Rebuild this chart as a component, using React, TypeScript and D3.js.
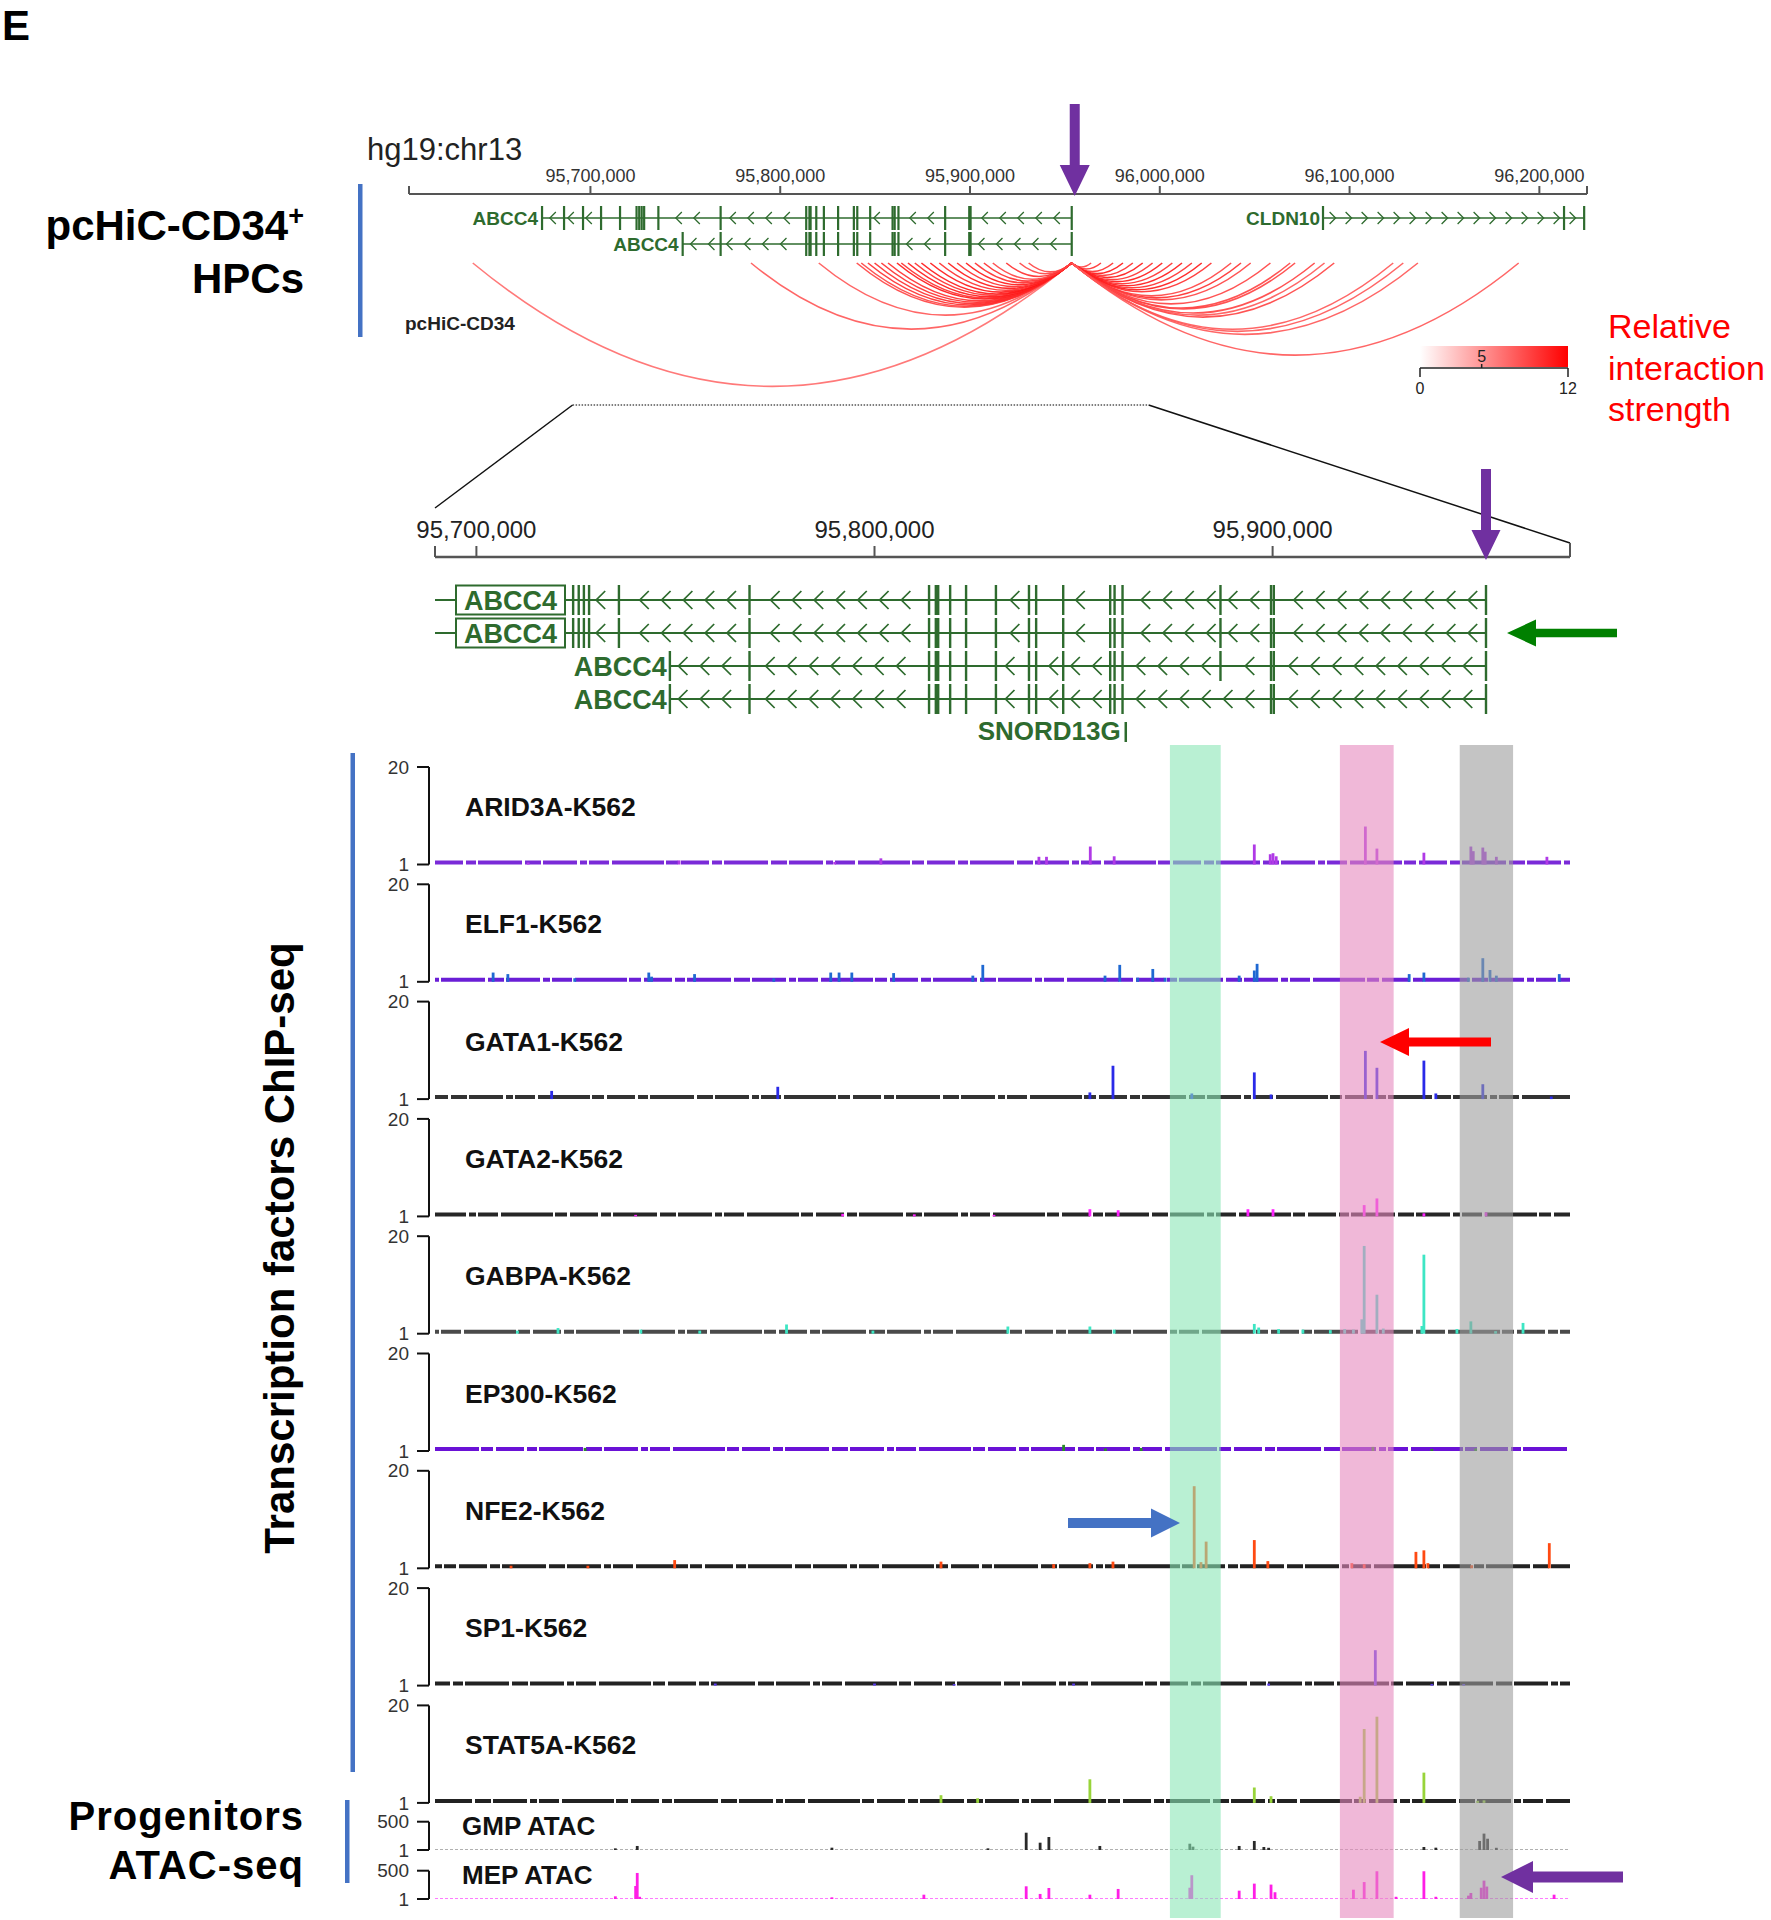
import React from "react";
import * as d3 from "d3";

const FONT = "'Liberation Sans', Arial, Helvetica, sans-serif";

// ---------------- genomic axes ----------------
const topDomain: [number, number] = [95604400, 96225100];
const topTickValues = [95700000, 95800000, 95900000, 96000000, 96100000, 96200000];
const zoomDomain: [number, number] = [95689600, 95974700];
const zoomTickValues = [95700000, 95800000, 95900000];
const zoomRegionOnTop: [number, number] = [95690600, 95994100];
const promoterPos = 95953600;

// ---------------- genes ----------------
const abcc4LongStart = 95674500;
const abcc4ShortStart = 95748600;
const abcc4End = 95953600;
const abcc4LongExons = [95674500, 95686100, 95696100, 95705600, 95715600, 95724300, 95725700, 95727000, 95728300, 95735800, 95768600, 95813700, 95815400, 95816000, 95819000, 95823000, 95830500, 95838800, 95840600, 95847400, 95859200, 95860300, 95862300, 95886900, 95899600, 95900300, 95953600];
const abcc4ShortExons = [95748600, 95768600, 95813700, 95815400, 95816000, 95819000, 95823000, 95830500, 95838800, 95840600, 95847400, 95859200, 95860300, 95862300, 95886900, 95899600, 95900300, 95953600];
const abcc4ShortExonsB = [95748600, 95768600, 95813700, 95815400, 95816000, 95819000, 95823000, 95830500, 95838800, 95840600, 95847400, 95859200, 95860300, 95862300, 95899600, 95900300, 95953600];
const cldn10Start = 96086000;
const cldn10End = 96223600;
const cldn10Exons = [96086000, 96213000, 96223600];
const snord13gPos = 95863100;

// ---------------- pcHiC interactions (partner ends, anchor = promoter) ----------------
const arcPartnerPos = [95638000, 95784600, 95820300, 95840300, 95842700, 95846200, 95849700, 95853300, 95856800, 95861500, 95863800, 95867300, 95870900, 95874400, 95879100, 95883800, 95888500, 95893200, 95897900, 95902600, 95907300, 95912000, 95919100, 95926100, 95930900, 95963800, 95969000, 95975400, 95980600, 95985800, 95991000, 95996200, 96001300, 96006600, 96011700, 96016900, 96022100, 96027200, 96037600, 96042800, 96047900, 96058300, 96068700, 96071300, 96081600, 96086800, 96091900, 96123000, 96128300, 96136000, 96189100];
const arcScores = [7, 8, 8, 9, 9, 10, 10, 10, 10, 11, 10, 11, 10, 11, 11, 10, 11, 10, 11, 10, 10, 9, 10, 9, 9, 9, 10, 10, 11, 10, 11, 10, 11, 10, 11, 10, 11, 10, 9, 10, 9, 9, 9, 9, 9, 8, 9, 8, 8, 8, 8];
const legendTicks = [0, 5, 12];

// ---------------- ChIP-seq tracks ----------------
const chipNames = ["ARID3A-K562", "ELF1-K562", "GATA1-K562", "GATA2-K562", "GABPA-K562", "EP300-K562", "NFE2-K562", "SP1-K562", "STAT5A-K562"];
const chipRange = [1, 20];
const arid3aPeaks = [[95713000, 1.4], [95750900, 1.8], [95790000, 1.5], [95801600, 2.2], [95841300, 2.5], [95843200, 2.5], [95854200, 4.5], [95860200, 2.6], [95895400, 4.9], [95899400, 3.0], [95900100, 3.2], [95900900, 2.6], [95923300, 8.4], [95926200, 4.1], [95938000, 3.3], [95949800, 4.5], [95950400, 3.6], [95952800, 4.3], [95953400, 3.5], [95956200, 2.5], [95968900, 2.5]];
const elf1Peaks = [[95704200, 2.8], [95707900, 2.5], [95724700, 1.7], [95743300, 2.8], [95744000, 2.0], [95754800, 2.5], [95774700, 1.7], [95789000, 2.8], [95791100, 2.8], [95794300, 2.8], [95804800, 2.7], [95824700, 2.2], [95827200, 4.3], [95857900, 2.2], [95861600, 4.3], [95866100, 1.8], [95869900, 3.5], [95873000, 1.8], [95891600, 2.2], [95895400, 3.2], [95896100, 4.5], [95934300, 2.5], [95938000, 2.8], [95949200, 1.8], [95952800, 5.6], [95954600, 3.3], [95956200, 2.2], [95972000, 2.5]];
const gata1Peaks = [[95718900, 2.6], [95775700, 3.4], [95854100, 2.3], [95859900, 7.5], [95879700, 2.1], [95895400, 6.2], [95899600, 1.9], [95923300, 10.4], [95926200, 7.1], [95938000, 8.5], [95941000, 2.1], [95952800, 3.9], [95970000, 1.5]];
const gata2Peaks = [[95740000, 1.3], [95792000, 1.5], [95810000, 1.4], [95830000, 1.3], [95854100, 2.4], [95861200, 2.2], [95893800, 2.4], [95900100, 2.4], [95923000, 3.2], [95926200, 4.5], [95938000, 1.6], [95953600, 1.8]];
const gabpaPeaks = [[95710300, 1.6], [95720500, 2.1], [95741300, 1.8], [95756100, 1.6], [95777900, 2.8], [95799600, 1.6], [95833500, 2.4], [95854100, 2.4], [95860200, 1.8], [95895400, 2.9], [95896500, 2.2], [95901500, 1.9], [95907600, 1.8], [95914500, 1.7], [95918100, 1.9], [95920300, 1.8], [95922400, 3.8], [95923000, 18.1], [95926200, 8.6], [95927800, 2.0], [95937500, 2.5], [95938000, 16.4], [95946300, 1.9], [95949800, 3.4], [95956000, 1.5], [95962900, 3.1]];
const ep300Peaks = [[95727300, 1.6], [95847500, 2.2], [95858000, 1.5], [95867000, 1.6], [95925200, 1.8], [95940000, 1.4], [95951000, 1.5]];
const nfe2Peaks = [[95708700, 1.5], [95728000, 1.5], [95749800, 2.6], [95816700, 2.3], [95845000, 1.8], [95854100, 2.0], [95859900, 2.3], [95880300, 17.0], [95882000, 2.2], [95883300, 6.2], [95895400, 6.5], [95898800, 2.4], [95919900, 2.0], [95923000, 1.8], [95936000, 4.2], [95938000, 4.5], [95939000, 2.0], [95950000, 1.6], [95969500, 5.9]];
const sp1Peaks = [[95760000, 1.4], [95800000, 1.4], [95820000, 1.3], [95850000, 1.4], [95899000, 1.4], [95925800, 7.9], [95940000, 1.3], [95948000, 1.3]];
const stat5aPeaks = [[95816700, 2.5], [95825900, 1.9], [95854100, 5.6], [95895400, 4.0], [95899600, 2.3], [95922000, 2.2], [95923000, 15.4], [95926200, 17.8], [95938000, 6.9], [95951500, 1.4], [95953100, 1.5]];
const chipPeaks = [arid3aPeaks, elf1Peaks, gata1Peaks, gata2Peaks, gabpaPeaks, ep300Peaks, nfe2Peaks, sp1Peaks, stat5aPeaks];

// ---------------- ATAC-seq tracks ----------------
const atacNames = ["GMP ATAC", "MEP ATAC"];
const atacRange = [1, 500];
const gmpPeaks = [[95734900, 30], [95740400, 72], [95789300, 42], [95828500, 30], [95838100, 306], [95841600, 130], [95843800, 230], [95856600, 72], [95879200, 112], [95880000, 60], [95891600, 72], [95895400, 160], [95897800, 54], [95899000, 40], [95938000, 54], [95941000, 42], [95952000, 160], [95953100, 290], [95954000, 200], [95956200, 40]];
const mepPeaks = [[95734900, 48], [95740000, 230], [95740400, 460], [95741000, 40], [95789300, 30], [95812400, 77], [95838100, 225], [95841600, 90], [95843800, 195], [95854100, 77], [95861200, 178], [95879200, 200], [95879700, 420], [95891600, 148], [95895400, 272], [95899600, 255], [95900600, 120], [95920300, 165], [95923000, 300], [95926200, 490], [95931000, 40], [95938000, 490], [95941000, 40], [95949200, 60], [95949800, 107], [95952400, 200], [95953100, 325], [95953800, 220], [95970700, 77]];
const atacPeaks = [gmpPeaks, mepPeaks];

// ---------------- highlighted regions ----------------
const highlightRegions = [[95874200, 95886960], [95916900, 95930400], [95947000, 95960400]];

// ---------------- styles ----------------
const GENE = "#2e6b2e";
const PURPLE = "#7030a0";
const BLUE = "#4472c4";
const chipPeakColors = ["#b03ae6", "#1f68d2", "#2a2ae8", "#ff22ff", "#3ee6c4", "#2a8a2a", "#ff4a12", "#5a3aee", "#98d43a"];
const chipBaseColors = ["#7a2ad8", "#6a1ed6", "#333333", "#262626", "#4a4a4a", "#6a12d6", "#222222", "#222222", "#222222"];
const atacPeakColors = ["#2a2a2a", "#ff1ee6"];
const atacBaseColors = ["#b0b0b0", "#ff7aff"];
const highlightColors = ["rgb(138,230,182)", "rgb(230,137,190)", "rgb(157,157,157)"];
const baselineDash = "28 3 10 2 44 3 16 2 34 3 7 2 20 3 52 2 12 3";

const xTop = d3.scaleLinear().domain(topDomain).range([409, 1587]);
const xZoom = d3.scaleLinear().domain(zoomDomain).range([435, 1570]);
const fmt = d3.format(",");
const arcColor = d3.scaleLinear<string>().domain([0, 12]).range(["#ffffff", "#ff0000"]).interpolate(d3.interpolateRgb);

function arrowPoints(x1: number, y1: number, x2: number, y2: number, shaft: number, headLen: number, headW: number) {
  const dx = x2 - x1, dy = y2 - y1, L = Math.hypot(dx, dy);
  const ux = dx / L, uy = dy / L, nx = -uy, ny = ux;
  const bx = x2 - headLen * ux, by = y2 - headLen * uy;
  const s = shaft / 2, h = headW / 2;
  const pts = [
    [x1 + s * nx, y1 + s * ny], [bx + s * nx, by + s * ny], [bx + h * nx, by + h * ny], [x2, y2],
    [bx - h * nx, by - h * ny], [bx - s * nx, by - s * ny], [x1 - s * nx, y1 - s * ny],
  ];
  return pts.map((p) => p.join(",")).join(" ");
}

function GeneRow(props: any) {
  const { x, y, start, end, exons, strand, tickH, chevW, chevH, spacing, lineW, clip, thick, chevFrom } = props;
  const [r0, r1] = x.range();
  let x1 = x(start), x2 = x(end);
  if (clip) { x1 = Math.max(x1, r0); x2 = Math.min(x2, r1); }
  const exXs = exons.map((e: number) => x(e)).filter((px: number) => px >= x1 - 1 && px <= x2 + 1);
  const chevs: number[] = [];
  for (let px = x1 + spacing * 0.6; px < x2 - spacing * 0.3; px += spacing) {
    if (chevFrom !== undefined && px < chevFrom) continue;
    if (exXs.some((e: number) => Math.abs(e - px) < chevW * 0.8 + 1)) continue;
    chevs.push(px);
  }
  return (
    <g>
      <line x1={x1} x2={x2} y1={y} y2={y} stroke={GENE} strokeWidth={lineW} />
      {exXs.map((px: number, i: number) => (
        <rect key={i} x={px - thick / 2} y={y - tickH} width={thick} height={tickH * 2} fill={GENE} />
      ))}
      {chevs.map((px, i) => {
        const d = strand === "-" ? 1 : -1;
        return (
          <polyline key={"c" + i} fill="none" stroke={GENE} strokeWidth={lineW * 0.8}
            points={`${px + (d * chevW) / 2},${y - chevH} ${px - (d * chevW) / 2},${y} ${px + (d * chevW) / 2},${y + chevH}`} />
        );
      })}
    </g>
  );
}

const TRACK_TOP0 = 767;
const TRACK_STEP = 117.3;
const TRACK_H = 97.5;
const atacTops = [1821.7, 1870.7];
const ATAC_H = 28.3;

export default function App() {
  const yTopGenes = [218, 244];
  const yZoomGenes = [600, 633, 666, 699];
  const arcY = 263;
  const px = xTop(promoterPos);

  return (
    <div style={{ position: "absolute", left: 0, top: 0, background: "#fff" }}>
      <svg width={1771} height={1920} style={{ display: "block", fontFamily: FONT }}>
        <defs>
          <linearGradient id="legendGrad" x1="0" x2="1" y1="0" y2="0">
            <stop offset="0%" stopColor={arcColor(0)} />
            <stop offset="100%" stopColor={arcColor(12)} />
          </linearGradient>
        </defs>
        <rect width={1771} height={1920} fill="#fff" />

        {/* Panel letter */}
        <text x={2} y={40} fontSize={42} fontWeight="bold" fill="#000">E</text>

        {/* ---------- top overview ---------- */}
        <text x={367} y={160} fontSize={31} fill="#222">hg19:chr13</text>
        <line x1={xTop.range()[0]} x2={xTop.range()[1]} y1={194} y2={194} stroke="#555" strokeWidth={2} />
        {xTop.range().map((v, i) => (
          <line key={"te" + i} x1={v} x2={v} y1={186} y2={194} stroke="#555" strokeWidth={2} />
        ))}
        {topTickValues.map((v) => (
          <g key={"tt" + v}>
            <line x1={xTop(v)} x2={xTop(v)} y1={186} y2={194} stroke="#555" strokeWidth={2} />
            <text x={xTop(v)} y={182} fontSize={18} textAnchor="middle" fill="#333">{fmt(v)}</text>
          </g>
        ))}

        {/* top genes */}
        <GeneRow x={xTop} y={yTopGenes[0]} start={abcc4LongStart} end={abcc4End} exons={abcc4LongExons} strand="-" tickH={12} chevW={6} chevH={6} spacing={18} lineW={1.6} thick={2.2} />
        <text x={xTop(abcc4LongStart) - 4} y={yTopGenes[0] + 7} fontSize={19} fontWeight="bold" textAnchor="end" fill={GENE}>ABCC4</text>
        <GeneRow x={xTop} y={yTopGenes[1]} start={abcc4ShortStart} end={abcc4End} exons={abcc4ShortExons} strand="-" tickH={12} chevW={6} chevH={6} spacing={18} lineW={1.6} thick={2.2} />
        <text x={xTop(abcc4ShortStart) - 4} y={yTopGenes[1] + 7} fontSize={19} fontWeight="bold" textAnchor="end" fill={GENE}>ABCC4</text>
        <GeneRow x={xTop} y={yTopGenes[0]} start={cldn10Start} end={cldn10End} exons={cldn10Exons} strand="+" tickH={12} chevW={6} chevH={6} spacing={16} lineW={1.6} thick={2.2} />
        <text x={xTop(cldn10Start) - 3} y={yTopGenes[0] + 7} fontSize={19} fontWeight="bold" textAnchor="end" fill={GENE}>CLDN10</text>

        {/* arcs */}
        {arcPartnerPos.map((p, i) => {
          const a = Math.min(xTop(p), px), b = Math.max(xTop(p), px);
          const depth = 0.206 * (b - a);
          return (
            <path key={"arc" + i} d={`M${a},${arcY} Q${(a + b) / 2},${arcY + 2 * depth} ${b},${arcY}`}
              fill="none" stroke={arcColor(arcScores[i])} strokeWidth={1.6} strokeOpacity={0.9} />
          );
        })}
        <text x={405} y={330} fontSize={19} fontWeight="bold" fill="#222">pcHiC-CD34</text>

        {/* top purple arrow */}
        <polygon points={arrowPoints(px + 3, 104, px + 3, 196, 10, 31, 30)} fill={PURPLE} />

        {/* legend */}
        <rect x={1420} y={346} width={148} height={21} fill="url(#legendGrad)" />
        {(() => {
          const lx = d3.scaleLinear().domain([0, 12]).range([1420, 1568]);
          return (
            <g>
              <line x1={1420} x2={1568} y1={368} y2={368} stroke="#222" strokeWidth={1.5} />
              <line x1={1420} x2={1420} y1={368} y2={377} stroke="#222" strokeWidth={1.5} />
              <line x1={1568} x2={1568} y1={368} y2={377} stroke="#222" strokeWidth={1.5} />
              <line x1={lx(5)} x2={lx(5)} y1={364} y2={368} stroke="#222" strokeWidth={1.5} />
              {legendTicks.map((t) => (
                <text key={"lg" + t} x={lx(t)} y={t === 5 ? 362 : 394} fontSize={16} textAnchor="middle" fill="#222">{t}</text>
              ))}
            </g>
          );
        })()}
        <text fontSize={34} fill="#ff0000">
          <tspan x={1608} y={338}>Relative</tspan>
          <tspan x={1608} y={380}>interaction</tspan>
          <tspan x={1608} y={421}>strength</tspan>
        </text>

        {/* left label top */}
        <rect x={358} y={184} width={4.5} height={153} fill={BLUE} />
        <text x={304} y={240} fontSize={42} fontWeight="bold" textAnchor="end" fill="#000">
          pcHiC-CD34<tspan fontSize={27} dy={-15}>+</tspan>
        </text>
        <text x={304} y={293} fontSize={42} fontWeight="bold" textAnchor="end" fill="#000">HPCs</text>

        {/* zoom connector */}
        <line x1={xTop(zoomRegionOnTop[0])} x2={xTop(zoomRegionOnTop[1])} y1={405} y2={405} stroke="#555" strokeWidth={1.5} strokeDasharray="1.5 1.5" />
        <line x1={xTop(zoomRegionOnTop[0])} y1={405} x2={xZoom.range()[0]} y2={508} stroke="#111" strokeWidth={1.5} />
        <line x1={xTop(zoomRegionOnTop[1])} y1={405} x2={xZoom.range()[1]} y2={543} stroke="#111" strokeWidth={1.5} />

        {/* ---------- zoom axis ---------- */}
        <line x1={xZoom.range()[0]} x2={xZoom.range()[1]} y1={557} y2={557} stroke="#555" strokeWidth={2.5} />
        <line x1={xZoom.range()[0]} x2={xZoom.range()[0]} y1={546} y2={557} stroke="#555" strokeWidth={2} />
        <line x1={xZoom.range()[1]} x2={xZoom.range()[1]} y1={543} y2={557} stroke="#555" strokeWidth={2} />
        {zoomTickValues.map((v) => (
          <g key={"zt" + v}>
            <line x1={xZoom(v)} x2={xZoom(v)} y1={546} y2={557} stroke="#555" strokeWidth={2} />
            <text x={xZoom(v)} y={538} fontSize={24} textAnchor="middle" fill="#222">{fmt(v)}</text>
          </g>
        ))}
        <polygon points={arrowPoints(xZoom(promoterPos), 469, xZoom(promoterPos), 560, 10, 30, 29)} fill={PURPLE} />

        {/* zoom genes */}
        {[0, 1].map((r) => (
          <g key={"zl" + r}>
            <GeneRow x={xZoom} y={yZoomGenes[r]} start={abcc4LongStart} end={abcc4End} exons={abcc4LongExons} strand="-" tickH={15} chevW={9} chevH={9} spacing={21.8} lineW={2.2} clip thick={2.4} chevFrom={570} />
            <rect x={456} y={yZoomGenes[r] - 14.5} width={109} height={29} fill="#fff" stroke={GENE} strokeWidth={2} />
            <text x={510.5} y={yZoomGenes[r] + 9.5} fontSize={27} fontWeight="bold" textAnchor="middle" fill={GENE}>ABCC4</text>
          </g>
        ))}
        {[2, 3].map((r) => (
          <g key={"zs" + r}>
            <GeneRow x={xZoom} y={yZoomGenes[r]} start={abcc4ShortStart} end={abcc4End} exons={r === 2 ? abcc4ShortExons : abcc4ShortExonsB} strand="-" tickH={15} chevW={9} chevH={9} spacing={21.8} lineW={2.2} clip thick={2.4} />
            <text x={xZoom(abcc4ShortStart) - 3} y={yZoomGenes[r] + 9.5} fontSize={27} fontWeight="bold" textAnchor="end" fill={GENE}>ABCC4</text>
          </g>
        ))}
        <rect x={xZoom(snord13gPos) - 1.2} y={722} width={2.5} height={20} fill={GENE} />
        <text x={xZoom(snord13gPos) - 5} y={740} fontSize={26} fontWeight="bold" textAnchor="end" fill={GENE}>SNORD13G</text>
        <polygon points={arrowPoints(1617, 633, 1507, 633, 8.5, 29, 27)} fill="#008000" />

        {/* ---------- ChIP-seq tracks ---------- */}
        {chipNames.map((name, i) => {
          const top = TRACK_TOP0 + i * TRACK_STEP;
          const y = d3.scaleLinear().domain(chipRange).range([top + TRACK_H, top]);
          const y1 = y(1);
          return (
            <g key={name}>
              <line x1={429} x2={429} y1={y(20)} y2={y1} stroke="#111" strokeWidth={2} />
              <line x1={417} x2={429} y1={y(20)} y2={y(20)} stroke="#111" strokeWidth={2} />
              <line x1={417} x2={429} y1={y1} y2={y1} stroke="#111" strokeWidth={2} />
              <text x={409} y={y(20)} dy="0.35em" fontSize={19} textAnchor="end" fill="#333">20</text>
              <text x={409} y={y1} dy="0.35em" fontSize={19} textAnchor="end" fill="#333">1</text>
              <text x={465} y={top + 49} fontSize={26.5} fontWeight="bold" fill="#111">{name}</text>
              <line x1={xZoom.range()[0]} x2={xZoom.range()[1]} y1={y1 - 2} y2={y1 - 2} stroke={chipBaseColors[i]}
                strokeWidth={4} strokeDasharray={baselineDash} strokeDashoffset={i * 37} />
              {chipPeaks[i].map(([p, v], k) => (
                <rect key={k} x={xZoom(p) - 1.4} width={2.8} y={y(v)} height={y1 - y(v)} fill={chipPeakColors[i]} />
              ))}
            </g>
          );
        })}

        {/* ---------- ATAC-seq tracks ---------- */}
        {atacNames.map((name, i) => {
          const top = atacTops[i];
          const y = d3.scaleLinear().domain(atacRange).range([top + ATAC_H, top]);
          const y1 = y(1);
          return (
            <g key={name}>
              <line x1={429} x2={429} y1={y(500)} y2={y1} stroke="#111" strokeWidth={2} />
              <line x1={417} x2={429} y1={y(500)} y2={y(500)} stroke="#111" strokeWidth={2} />
              <line x1={417} x2={429} y1={y1} y2={y1} stroke="#111" strokeWidth={2} />
              <text x={409} y={y(500)} dy="0.35em" fontSize={19} textAnchor="end" fill="#333">500</text>
              <text x={409} y={y1} dy="0.35em" fontSize={19} textAnchor="end" fill="#333">1</text>
              <text x={462} y={top + 13} fontSize={26} fontWeight="bold" fill="#111">{name}</text>
              <line x1={xZoom.range()[0]} x2={xZoom.range()[1]} y1={y1 - 0.5} y2={y1 - 0.5} stroke={atacBaseColors[i]}
                strokeWidth={1.2} strokeDasharray="3 2" />
              {atacPeaks[i].map(([p, v], k) => (
                <rect key={k} x={xZoom(p) - 1.4} width={2.8} y={y(v)} height={y1 - y(v)} fill={atacPeakColors[i]} />
              ))}
            </g>
          );
        })}

        {/* ---------- highlighted regions ---------- */}
        {highlightRegions.map(([a, b], i) => (
          <rect key={"hl" + i} x={xZoom(a)} width={xZoom(b) - xZoom(a)} y={745} height={1173} fill={highlightColors[i]} fillOpacity={0.6} />
        ))}

        {/* annotation arrows */}
        <polygon points={arrowPoints(1491, 1042, 1380, 1042, 9, 29, 28)} fill="#ff0000" />
        <polygon points={arrowPoints(1068, 1523, 1180, 1523, 10, 29, 29)} fill={BLUE} />
        <polygon points={arrowPoints(1623, 1877, 1501, 1877, 11, 32, 32)} fill={PURPLE} />

        {/* left labels */}
        <rect x={350.5} y={753} width={4.5} height={1019} fill={BLUE} />
        <text transform="translate(294,1248) rotate(-90)" fontSize={42} fontWeight="bold" textAnchor="middle" fill="#000">
          Transcription factors ChIP-seq
        </text>
        <rect x={345} y={1800} width={4.5} height={83} fill={BLUE} />
        <text x={304} y={1830} fontSize={40} fontWeight="bold" textAnchor="end" letterSpacing={1} fill="#000">Progenitors</text>
        <text x={304} y={1879} fontSize={40} fontWeight="bold" textAnchor="end" letterSpacing={1} fill="#000">ATAC-seq</text>
      </svg>
    </div>
  );
}
